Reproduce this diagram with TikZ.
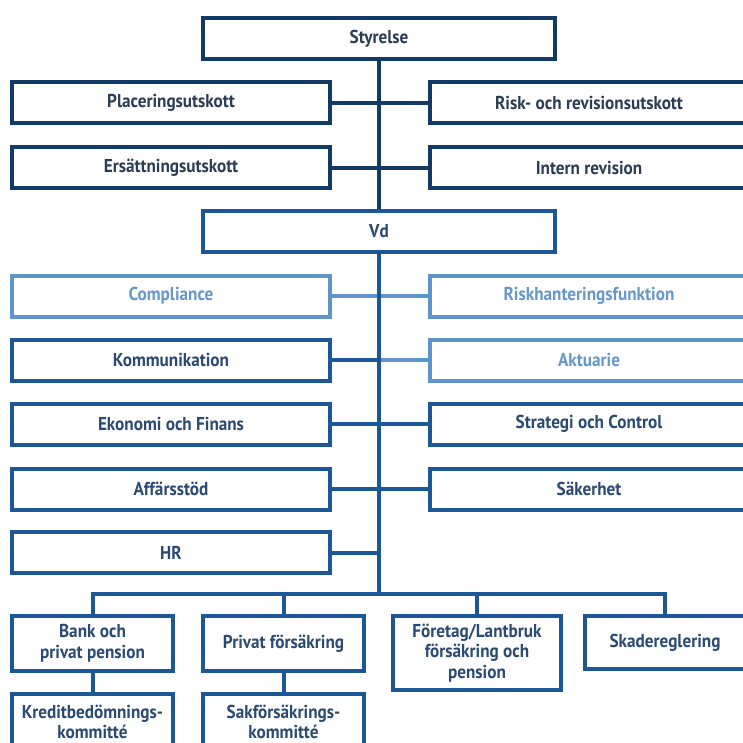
\documentclass[tikz,border=0pt]{standalone}
\usepackage{fontspec}
\setmainfont{PT Sans}[FakeStretch=0.92]
\definecolor{navy}{HTML}{113B66}
\definecolor{midblue}{HTML}{1C5898}
\definecolor{lightb}{HTML}{5E95CA}
\definecolor{navytxt}{HTML}{2B3D56}
\definecolor{bluetxt}{HTML}{294A72}
\definecolor{lighttxt}{HTML}{6498CB}
\begin{document}
\begin{tikzpicture}[x=0.75pt,y=-0.75pt,
  box/.style={draw, line width=3pt, fill=white, align=center, inner sep=0pt,
    font=\bfseries\fontsize{14}{15.5}\selectfont},
  navyb/.style={box, draw=navy, text=navytxt},
  blueb/.style={box, draw=midblue, text=bluetxt},
  lightbx/.style={box, draw=lightb, text=lighttxt},
  colw/.style={minimum width=238.5pt, minimum height=30.75pt},
  botw/.style={minimum width=120.75pt, minimum height=41.25pt},
  navyl/.style={draw=navy, line width=3pt},
  bluel/.style={draw=midblue, line width=3pt},
  lightl/.style={draw=lightb, line width=3pt}]
\path[use as bounding box, clip] (0,0) rectangle (743,743);
\fill[white] (0,0) rectangle (743,743);
\coordinate (bar) at (379,594);
\node[navyb, minimum width=264pt, minimum height=30.75pt] (sty) at (379,38.5) {Styrelse};
\node[navyb, colw] (plac) at (171,102.5) {Placeringsutskott};
\node[navyb, colw] (risk) at (589,102.5) {Risk- och revisionsutskott};
\node[navyb, colw] (ers) at (171,167.5) {Ersättningsutskott};
\node[navyb, colw] (intern) at (589,167.5) {Intern revision};
\node[blueb, minimum width=264pt, minimum height=30.75pt] (vd) at (379,231) {Vd};
\node[lightbx, colw] (comp) at (171,296) {Compliance};
\node[lightbx, colw] (riskh) at (589,296) {Riskhanteringsfunktion};
\node[blueb, colw] (komm) at (171,360) {Kommunikation};
\node[lightbx, colw] (akt) at (589,360) {Aktuarie};
\node[blueb, colw] (ek) at (171,424) {Ekonomi och Finans};
\node[blueb, colw] (strat) at (589,424) {Strategi och Control};
\node[blueb, colw] (aff) at (171,489) {Affärsstöd};
\node[blueb, colw] (saker) at (589,489) {Säkerhet};
\node[blueb, colw] (hr) at (171,552.5) {HR};
\node[blueb, botw] (bank) at (92.5,643.5) {Bank och\\privat pension};
\node[blueb, botw] (privat) at (283.5,643.5) {Privat försäkring};
\node[blueb, minimum width=126pt, minimum height=55.5pt] (foretag) at (477,653) {Företag/Lantbruk\\försäkring och\\pension};
\node[blueb, botw, minimum height=39.75pt] (skade) at (665,642.5) {Skadereglering};
\node[blueb, botw, minimum height=42pt] (kredit) at (92.5,722) {Kreditbedömnings-\\kommitté};
\node[blueb, botw, minimum height=42pt] (sakf) at (283.5,722) {Sakförsäkrings-\\kommitté};
% connectors
\draw[navyl] (plac.east) -- (risk.west);
\draw[navyl] (ers.east) -- (intern.west);
\draw[lightl] (comp.east) -- (riskh.west);
\draw[bluel] (komm.east) -- (komm.east -| vd.south);
\draw[lightl] (komm.east -| vd.south) -- (akt.west);
\draw[bluel] (ek.east) -- (strat.west);
\draw[bluel] (aff.east) -- (saker.west);
\draw[bluel] (hr.east) -- (hr.east -| vd.south);
\draw[bluel, line join=miter] (bank.north) -- (bank.north |- bar) -- (skade.north |- bar) -- (skade.north);
\draw[bluel] (privat.north) -- (privat.north |- bar);
\draw[bluel] (foretag.north) -- (foretag.north |- bar);
\draw[bluel] (bank.south) -- (kredit.north);
\draw[bluel] (privat.south) -- (sakf.north);
\draw[navyl] (sty.south) -- (vd.north);
\draw[bluel] (vd.south) -- (bar);
\end{tikzpicture}
\end{document}
